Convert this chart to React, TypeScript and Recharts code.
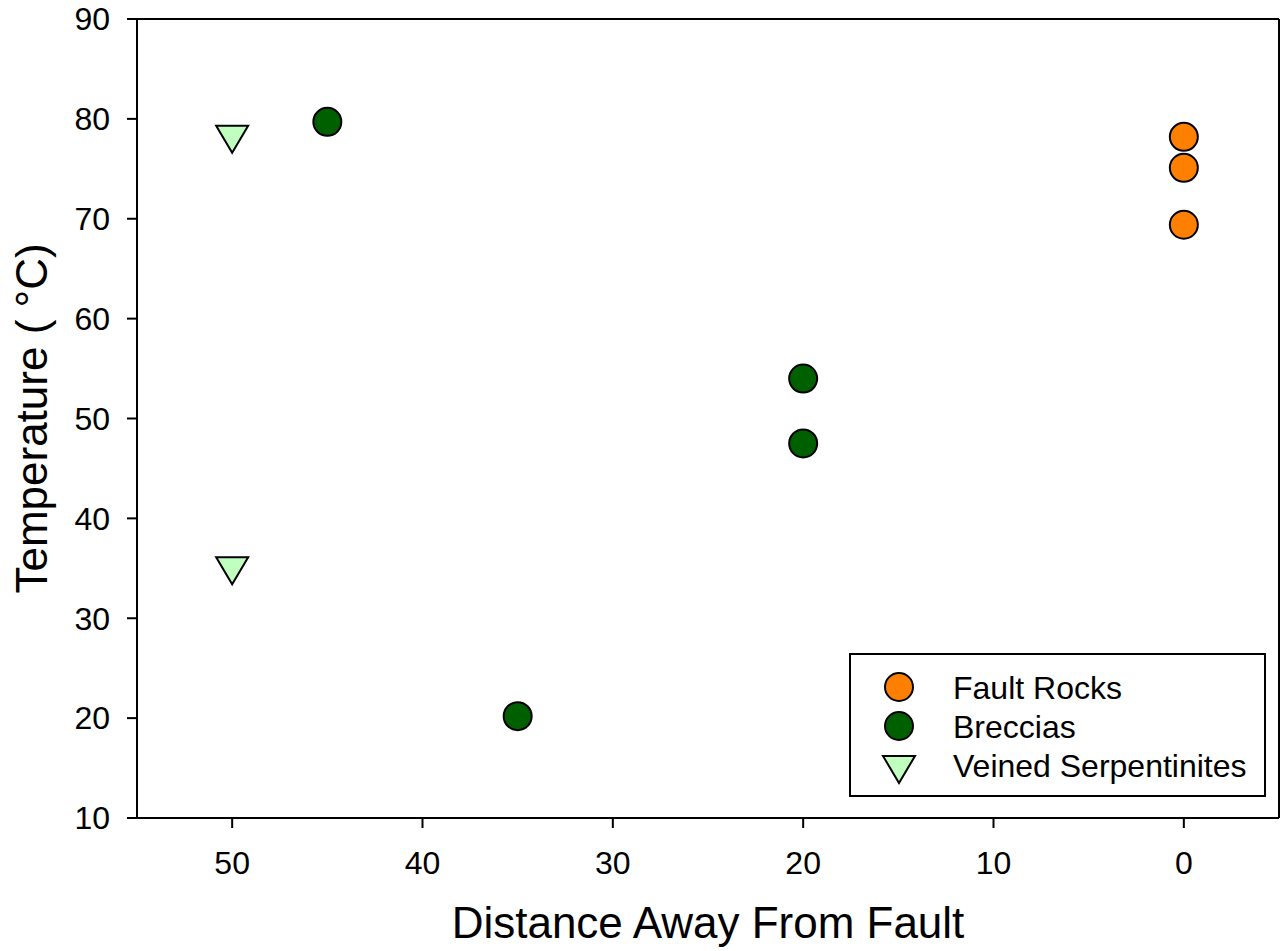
import { ScatterChart, Scatter, XAxis, YAxis, Legend, ReferenceLine, Label } from "recharts";

const FONT = "'Liberation Sans', Arial, sans-serif";

const X_TICKS = [0, 10, 20, 30, 40, 50];
const Y_TICKS = [10, 20, 30, 40, 50, 60, 70, 80, 90];

// Fault rocks, right at the fault
const FAULT_X = [0, 0, 0];
const FAULT_Y = [78.2, 75.1, 69.4];

// Breccias
const BRECCIA_X = [45, 35, 20, 20];
const BRECCIA_Y = [79.7, 20.2, 54.0, 47.5];

// Veined serpentinites
const VEIN_X = [50, 50];
const VEIN_Y = [78.4, 35.2];

const toPoints = (xs: number[], ys: number[]) => xs.map((x, i) => ({ x, y: ys[i] }));

const SERIES = [
  { name: "Fault Rocks", fill: "#FF8000", kind: "circle", data: toPoints(FAULT_X, FAULT_Y) },
  { name: "Breccias", fill: "#006000", kind: "circle", data: toPoints(BRECCIA_X, BRECCIA_Y) },
  { name: "Veined Serpentinites", fill: "#C0FFC0", kind: "triangle", data: toPoints(VEIN_X, VEIN_Y) },
];

function Marker({ kind, cx, cy, fill }: { kind: string; cx: number; cy: number; fill: string }) {
  if (kind === "triangle") {
    // anchored at the centroid, pointing down
    const d = `M${cx - 16},${cy - 9} L${cx + 16},${cy - 9} L${cx},${cy + 18} Z`;
    return <path d={d} fill={fill} stroke="#000" strokeWidth={2} strokeLinejoin="miter" />;
  }
  return <circle cx={cx} cy={cy} r={14} fill={fill} stroke="#000" strokeWidth={2} />;
}

function LegendBox() {
  return (
    <div style={{ width: 417, height: 144, boxSizing: "border-box", border: "2px solid #000", background: "#fff" }}>
      <svg width={413} height={140} style={{ display: "block" }}>
        {SERIES.map((s, i) => (
          <g key={s.name}>
            <Marker kind={s.kind} cx={48} cy={32 + i * 39} fill={s.fill} />
            <text x={102} y={44 + i * 39} fontSize={32} fontFamily={FONT} fill="#000">
              {s.name}
            </text>
          </g>
        ))}
      </svg>
    </div>
  );
}

const tickStyle = { fontSize: 32, fill: "#000", fontFamily: FONT };
const lineStyle = { stroke: "#000", strokeWidth: 2 };

export default function App() {
  return (
    <div style={{ position: "absolute", left: 0, top: 0, background: "#fff" }}>
      <ScatterChart
        width={1281}
        height={951}
        margin={{ top: 19, right: 2, bottom: 0, left: 0 }}
        style={{ fontFamily: FONT }}
      >
        <XAxis
          type="number"
          dataKey="x"
          domain={[-5, 55]}
          reversed
          ticks={X_TICKS}
          height={133}
          tickSize={10}
          tickMargin={23}
          tick={tickStyle}
          axisLine={lineStyle}
          tickLine={lineStyle}
        >
          <Label
            content={(props: any) => {
              const vb = props.viewBox || { x: 137, y: 818, width: 1142, height: 133 };
              return (
                <text x={vb.x + vb.width / 2} y={938} textAnchor="middle" fontSize={44} fontFamily={FONT} fill="#000">
                  Distance Away From Fault
                </text>
              );
            }}
          />
        </XAxis>
        <YAxis
          type="number"
          dataKey="y"
          domain={[10, 90]}
          ticks={Y_TICKS}
          width={137}
          tickSize={10}
          tickMargin={17}
          tick={tickStyle}
          axisLine={lineStyle}
          tickLine={lineStyle}
        >
          <Label
            content={(props: any) => {
              const vb = props.viewBox || { x: 0, y: 19, width: 137, height: 799 };
              const cy = vb.y + vb.height / 2;
              return (
                <text
                  x={47}
                  y={cy}
                  transform={`rotate(-90, 47, ${cy})`}
                  textAnchor="middle"
                  fontSize={44}
                  fontFamily={FONT}
                  fill="#000"
                >
                  Temperature ( °C)
                </text>
              );
            }}
          />
        </YAxis>
        <ReferenceLine y={90} stroke="#000" strokeWidth={2} />
        <ReferenceLine x={-5} stroke="#000" strokeWidth={2} />
        {SERIES.map((s) => (
          <Scatter
            key={s.name}
            name={s.name}
            data={s.data}
            fill={s.fill}
            isAnimationActive={false}
            shape={(p: any) => <Marker kind={s.kind} cx={p.cx} cy={p.cy} fill={s.fill} />}
          />
        ))}
        <Legend
          layout="vertical"
          align="center"
          verticalAlign="middle"
          content={() => <LegendBox />}
          wrapperStyle={{ left: 849, top: 653, width: 417, height: 144 }}
        />
      </ScatterChart>
    </div>
  );
}
